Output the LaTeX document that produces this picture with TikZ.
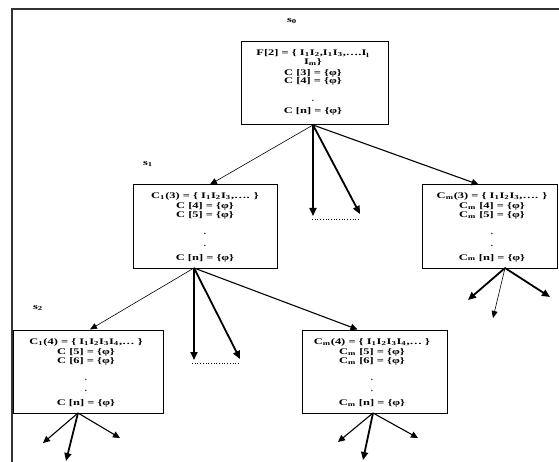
\documentclass[tikz,border=0pt]{standalone}
\usepackage{fontspec}
\usepackage{graphicx}
\newfontfamily\fnt{Liberation Serif}
\newcommand\tx[1]{\scalebox{1.45}[1]{#1}}
\usetikzlibrary{arrows.meta,calc}
\tikzset{
  box/.style={draw, line width=1pt, inner sep=0pt},
  tl/.style={font=\fnt\bfseries\fontsize{8.6}{8}\selectfont, inner sep=0pt, anchor=base},
  lab/.style={font=\fnt\bfseries\fontsize{8.6}{8}\selectfont, inner sep=0pt},
  frame/.style={draw=black!80, line width=1.5pt},
  thinar/.style={line width=0.6pt, -{Triangle[length=7pt,width=6pt]}},
  midar/.style={line width=1.1pt, -{Triangle[length=7pt,width=6.5pt]}},
  thkar/.style={line width=1.8pt, -{Triangle[length=8pt,width=7pt]}},
  dots/.style={line width=0.7pt, dotted},
}
\begin{document}
\begin{tikzpicture}[x=1pt,y=-1pt]
\useasboundingbox (0,0) rectangle (559,462);
\draw[frame] (12,462) -- (12,9) -- (559,9);

% boxes
\node[box, minimum width=147pt, minimum height=83pt] (root) at (314.5,83.5) {};
\node[box, minimum width=144pt, minimum height=83pt] (s1) at (205,226.5) {};
\node[box, minimum width=135pt, minimum height=83pt] (rt) at (489.5,226.5) {};
\node[box, minimum width=150pt, minimum height=83pt] (s2) at (88,371.5) {};
\node[box, minimum width=145pt, minimum height=83pt] (bm) at (374.5,371.5) {};

% labels
\node[lab] (l0) at (292,21) {\tx{s\textsubscript{0}}};
\node[lab] (l1) at (148,164) {\tx{s\textsubscript{1}}};
\node[lab] (l2) at (38,308) {\tx{s\textsubscript{2}}};

% root text
\node[tl] (r1) at (313,56) {\tx{F[2] = \{ I\textsubscript{1}I\textsubscript{2},I\textsubscript{1}I\textsubscript{3},….I\textsubscript{l}}};
\node[tl] (r2) at (313,65) {\tx{I\textsubscript{m}\}}};
\node[tl] (r3) at (313,76) {\tx{C [3] = \{φ\}}};
\node[tl] (r4) at (313,84) {\tx{C [4] = \{φ\}}};
\node[tl] (r5) at (313,102) {.};
\node[tl] (r6) at (313,114) {\tx{C [n] = \{φ\}}};

% s1 text
\node[tl] (a1) at (205,199) {\tx{C\textsubscript{1}(3) = \{ I\textsubscript{1}I\textsubscript{2}I\textsubscript{3},…. \}}};
\node[tl] (a2) at (205,209) {\tx{C [4] = \{φ\}}};
\node[tl] (a3) at (205,218) {\tx{C [5] = \{φ\}}};
\node[tl] (a4) at (205,235) {.};
\node[tl] (a5) at (205,247) {.};
\node[tl] (a6) at (205,260) {\tx{C [n] = \{φ\}}};

% right text
\node[tl] (b1) at (492,199) {\tx{C\textsubscript{m}(3) = \{ I\textsubscript{1}I\textsubscript{2}I\textsubscript{3},…. \}}};
\node[tl] (b2) at (492,209) {\tx{C\textsubscript{m} [4] = \{φ\}}};
\node[tl] (b3) at (492,218) {\tx{C\textsubscript{m} [5] = \{φ\}}};
\node[tl] (b4) at (492,235) {.};
\node[tl] (b5) at (492,247) {.};
\node[tl] (b6) at (492,260) {\tx{C\textsubscript{m} [n] = \{φ\}}};

% s2 text
\node[tl] (c1) at (86,344) {\tx{C\textsubscript{1}(4) = \{ I\textsubscript{1}I\textsubscript{2}I\textsubscript{3}I\textsubscript{4},… \}}};
\node[tl] (c2) at (86,354) {\tx{C [5] = \{φ\}}};
\node[tl] (c3) at (86,363) {\tx{C [6] = \{φ\}}};
\node[tl] (c4) at (86,380) {.};
\node[tl] (c5) at (86,391) {.};
\node[tl] (c6) at (86,405) {\tx{C [n] = \{φ\}}};

% bottom middle text
\node[tl] (d1) at (372,344) {\tx{C\textsubscript{m}(4) = \{ I\textsubscript{1}I\textsubscript{2}I\textsubscript{3}I\textsubscript{4},… \}}};
\node[tl] (d2) at (372,354) {\tx{C\textsubscript{m} [5] = \{φ\}}};
\node[tl] (d3) at (372,363) {\tx{C\textsubscript{m} [6] = \{φ\}}};
\node[tl] (d4) at (372,380) {.};
\node[tl] (d5) at (372,391) {.};
\node[tl] (d6) at (372,405) {\tx{C\textsubscript{m} [n] = \{φ\}}};

% origins and free ends
\coordinate (o0) at (313,125);
\coordinate (o1) at (194,268);
\coordinate (o2) at (505,268);
\coordinate (o3) at (78,413);
\coordinate (o4) at (373,413);
\coordinate (e01) at (313,216);
\coordinate (e02) at (360,214);
\coordinate (e11) at (194,360);
\coordinate (e12) at (240,359);
\coordinate (e21) at (468,300);
\coordinate (e22) at (493,318);
\coordinate (e23) at (550,297);
\coordinate (e31) at (43,443);
\coordinate (e32) at (66,461);
\coordinate (e33) at (120,438);
\coordinate (e41) at (338,442);
\coordinate (e42) at (363,460);
\coordinate (e43) at (418,438);
\coordinate (p1) at (312,219);
\coordinate (p2) at (360,219);
\coordinate (q1) at (192,363);
\coordinate (q2) at (240,363);

% connectors
\draw[thinar] (o0) -- ([xshift=5pt]s1.north);
\draw[thkar] (o0) -- (e01);
\draw[thkar] (o0) -- (e02);
\draw[midar] (o0) -- ([xshift=-11pt]rt.north);
\draw[dots] (p1) -- (p2);

\draw[thinar] (o1) -- ([xshift=2pt]s2.north);
\draw[thkar] (o1) -- (e11);
\draw[thkar] (o1) -- (e12);
\draw[midar] (o1) -- ([xshift=-17pt]bm.north);
\draw[dots] (q1) -- (q2);

\draw[thkar] (o2) -- (e21);
\draw[thinar] (o2) -- (e22);
\draw[thkar] (o2) -- (e23);

\draw[midar] (o3) -- (e31);
\draw[thkar] (o3) -- (e32);
\draw[midar] (o3) -- (e33);

\draw[midar] (o4) -- (e41);
\draw[thkar] (o4) -- (e42);
\draw[midar] (o4) -- (e43);
\end{tikzpicture}
\end{document}
